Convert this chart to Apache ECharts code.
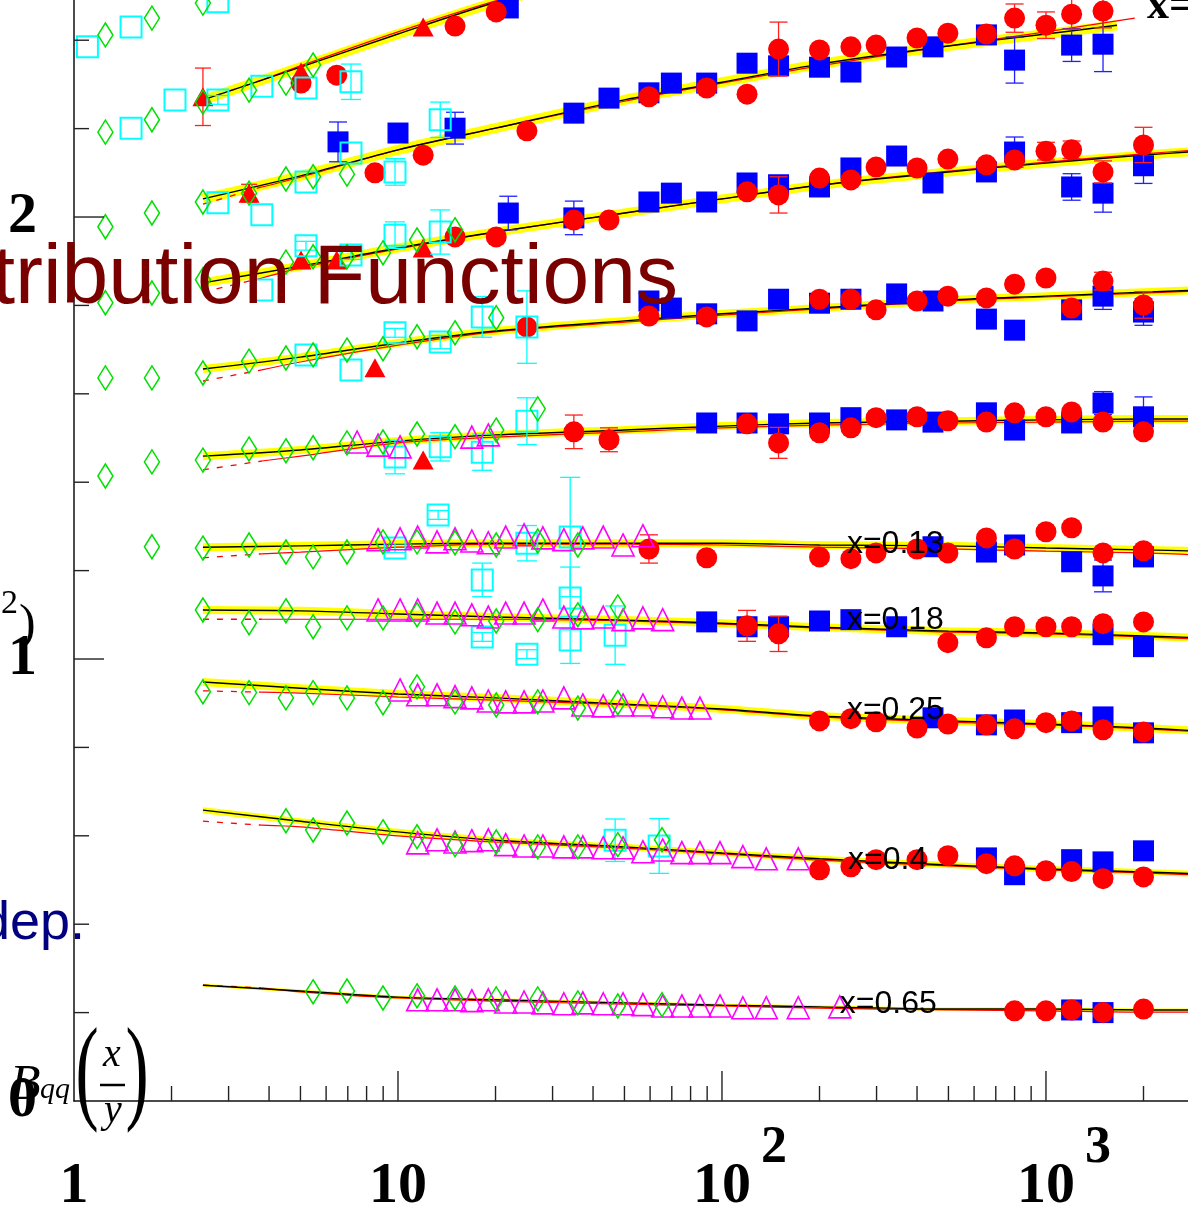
<!DOCTYPE html>
<html><head><meta charset="utf-8">
<script src="https://cdn.jsdelivr.net/npm/echarts@6/dist/echarts.min.js"></script>
<style>html,body{margin:0;padding:0;background:#fff;}#c{width:1188px;height:1212px;}</style>
</head><body><div id="c"></div>
<script>
// ---------------- tick labels ----------------
const xTickLabels = ['1', '10', '10', '10'];
const xTickExp = ['', '', '2', '3'];
const yTickLabels = ['0', '1', '2'];
const xMinorTicks = [2,3,4,5,6,7,8,9,20,30,40,50,60,70,80,90,200,300,400,500,600,700,800,900,2000];
const xMajorTicks = [10,100,1000];
const yMinorTicks = [0.2,0.4,0.6,0.8,1.2,1.4,1.6,1.8,2.2,2.4];
const yMajorTicks = [1,2];

// ---------------- bin labels ----------------
const binLabels = ['x=0.13','x=0.18','x=0.25','x=0.4','x=0.65'];
const binLabelPos = [[243,1.259],[243,1.088],[243,0.885],[245,0.544],[231,0.219]];

// ---------------- fit curves (Q2 grid, value) ----------------
const curveQ = [2.5,5,10,20,50,100,200,500,1000,2000,3000];
const redQ = [2.5,3.8,5,10,20,50,100,200,500,1000,2000,3000];
const curveQ9 = [2.5,5,10,20,50,100,200,500,1000,1656];
const redQ9 = [2.5,3.8,5,10,20,50,100,200,500,1000,1880];
const curveQ10 = [2.5,5,10,20,30];
const redQ10 = [2.5,3.8,5,10,20,30];

const black1 = [0.262,0.249,0.235,0.229,0.222,0.217,0.213,0.208,0.208,0.206,0.206];
const red1   = [0.262,0.256,0.247,0.233,0.226,0.219,0.215,0.210,0.206,0.204,0.201,0.201];
const black2 = [0.658,0.633,0.609,0.590,0.575,0.561,0.548,0.534,0.525,0.518,0.514];
const red2   = [0.633,0.624,0.620,0.600,0.586,0.572,0.559,0.545,0.532,0.523,0.516,0.511];
const black3 = [0.948,0.934,0.921,0.912,0.898,0.887,0.871,0.860,0.853,0.844,0.837];
const red3   = [0.928,0.925,0.923,0.914,0.907,0.896,0.885,0.869,0.857,0.851,0.842,0.835];
const black4 = [1.111,1.109,1.102,1.095,1.088,1.081,1.072,1.063,1.059,1.052,1.048];
const red4   = [1.090,1.090,1.090,1.090,1.090,1.086,1.079,1.070,1.061,1.057,1.050,1.045];
const black5 = [1.253,1.256,1.260,1.262,1.262,1.262,1.258,1.256,1.251,1.247,1.244];
const red5   = [1.229,1.238,1.242,1.253,1.260,1.260,1.258,1.253,1.249,1.244,1.240,1.235];
const black6 = [1.459,1.473,1.493,1.507,1.518,1.527,1.534,1.538,1.541,1.543,1.543];
const red6   = [1.428,1.448,1.459,1.489,1.502,1.514,1.523,1.529,1.534,1.536,1.538,1.538];
const black7 = [1.656,1.683,1.715,1.742,1.765,1.781,1.794,1.812,1.821,1.830,1.835];
const red7   = [1.629,1.654,1.672,1.710,1.740,1.762,1.778,1.792,1.810,1.819,1.828,1.833];
const black8 = [1.851,1.889,1.930,1.966,2.009,2.041,2.072,2.102,2.122,2.140,2.149];
const red8   = [1.830,1.862,1.885,1.928,1.966,2.009,2.041,2.072,2.104,2.124,2.143,2.152];
const black9 = [2.041,2.093,2.152,2.201,2.265,2.305,2.346,2.387,2.414,2.434];
const red9   = [2.029,2.068,2.090,2.152,2.201,2.262,2.303,2.342,2.387,2.419,2.450];
const black10 = [2.265,2.339,2.414,2.486,2.518];
const red10   = [2.265,2.310,2.342,2.419,2.489,2.523];

// ---------------- data points [Q2, value, error] ----------------
const greenDiamonds = [
  [1.25,2.412],[1.74,2.450],[2.50,2.484],
  [1.25,2.192],[1.74,2.220],[2.50,2.260],[3.47,2.287],[4.51,2.303],[5.47,2.344],
  [1.25,1.978],[1.74,2.009],[2.50,2.034],[3.47,2.054],[4.51,2.086],[5.47,2.091],[6.96,2.097],
  [1.25,1.806],[1.74,1.828],[2.50,1.858],[4.51,1.898],[5.47,1.910],[6.96,1.910],[8.99,1.919],[11.45,1.948],[15.0,1.971],
  [1.25,1.636],[1.74,1.636],[2.50,1.647],[3.47,1.674],[4.51,1.681],[5.47,1.688],[6.96,1.699],[8.99,1.702],[11.45,1.729],[15.0,1.738],[20.1,1.772],
  [1.25,1.414],[1.74,1.446],[2.50,1.450],[3.47,1.475],[4.51,1.471],[5.47,1.478],[6.96,1.489],[8.99,1.491],[11.45,1.509],[15.0,1.503],[20.1,1.518],[27.0,1.566],
  [1.74,1.254],[2.50,1.251],[3.47,1.258],[4.51,1.242],[5.47,1.231],[6.96,1.242],[8.99,1.265],[11.45,1.265],[15.0,1.263],[20.1,1.258],[27.0,1.267],[35.9,1.258],
  [2.50,1.111],[3.47,1.082],[4.51,1.109],[5.47,1.073],[6.96,1.093],[8.99,1.093],[11.45,1.100],[15.0,1.084],[20.1,1.086],[27.0,1.089],[35.9,1.100],[47.7,1.118],
  [2.50,0.926,0.03],[3.47,0.924],[4.51,0.912],[5.47,0.924],[6.96,0.912],[8.99,0.901],[11.45,0.937],[15.0,0.903],[20.1,0.896],[27.0,0.903],[35.9,0.889],[47.7,0.901],
  [4.51,0.634],[5.47,0.613],[6.96,0.629],[8.99,0.609],[11.45,0.598],[15.0,0.580],[20.1,0.586],[27.0,0.575],[35.9,0.575],[47.7,0.580],[65.3,0.591],
  [5.47,0.247],[6.96,0.249],[8.99,0.233],[11.45,0.238],[15.0,0.233],[20.1,0.231],[27.0,0.231],[35.9,0.222],[47.7,0.215],[65.3,0.218]
];
const cyanSquares = [
  [1.10,2.385,0],[1.50,2.430,0],[2.78,2.487,0],
  [1.50,2.201,0],[2.05,2.265,0],[2.78,2.265,0.01],[3.80,2.296,0],[5.20,2.292,0],[7.16,2.306,0.04],
  [2.78,2.032,0],[3.80,2.005,0],[5.20,2.079,0],[7.16,2.145,0],[9.79,2.102,0.03],[13.5,2.220,0.04],
  [3.80,1.835,0],[5.20,1.935,0.01],[7.16,1.914,0.01],[9.79,1.959,0.03],[13.5,1.966,0.05],
  [5.20,1.688,0],[7.16,1.654,0],[9.79,1.738,0.01],[13.5,1.717,0.015],[18.2,1.774,0.046],[25.0,1.751,0.082],
  [9.79,1.457,0.038],[13.5,1.480,0.032],[18.2,1.468,0.041],[25.0,1.538,0.053],
  [9.79,1.251,0.01],[13.3,1.326,0.01],[18.2,1.179,0.038],[25.0,1.262,0.04],[34.0,1.276,0.135],
  [18.2,1.050,0.01],[25.0,1.011,0.01],[34.0,1.138,0.07],[34.0,1.043,0.053],[46.8,1.054,0.066],
  [46.8,0.590,0.048],[64.0,0.577,0.062]
];
const magentaTriangles = [
  [7.48,1.491],[8.68,1.484],[10.15,1.480],[16.9,1.502],[19.0,1.507],
  [8.68,1.270],[10.15,1.272],[11.5,1.276],[13.2,1.265],[15.0,1.272],[16.9,1.267],[19.0,1.263],[21.5,1.276],[24.5,1.281],[28.0,1.274],[32.5,1.270],[37.2,1.274],[43.0,1.276],[49.5,1.258],[57.0,1.279],
  [8.68,1.111],[10.15,1.111],[11.5,1.111],[13.2,1.104],[15.0,1.104],[16.9,1.100],[19.0,1.095],[21.5,1.104],[24.5,1.104],[28.0,1.111],[32.5,1.095],[37.2,1.093],[43.0,1.095],[49.5,1.089],[57.0,1.093],[65.6,1.089],
  [10.15,0.930],[11.5,0.919],[13.2,0.919],[15.0,0.915],[16.9,0.912],[19.0,0.905],[21.5,0.903],[24.5,0.903],[28.0,0.905],[32.5,0.912],[37.2,0.896],[43.0,0.894],[49.5,0.896],[57.0,0.896],[65.6,0.892],[75.2,0.889],[85.5,0.889],
  [11.5,0.584],[13.2,0.591],[15.0,0.586],[16.9,0.589],[19.0,0.591],[21.5,0.580],[24.5,0.577],[28.0,0.577],[32.5,0.575],[37.2,0.575],[43.0,0.573],[49.5,0.573],[57.0,0.564],[65.6,0.568],[75.2,0.562],[85.5,0.562],[98.6,0.562],[116,0.553],[137,0.548],[172,0.548],
  [11.5,0.229],[13.2,0.229],[15.0,0.229],[16.9,0.227],[19.0,0.229],[21.5,0.224],[24.5,0.224],[28.0,0.222],[32.5,0.220],[37.2,0.222],[43.0,0.220],[49.5,0.220],[57.0,0.218],[65.6,0.215],[75.2,0.215],[85.5,0.215],[98.6,0.215],[116,0.211],[137,0.211],[172,0.211],[231,0.213]
];
const redTriangles = [
  [2.50,2.272,0.065],[5.02,2.328,0],[11.96,2.430,0],
  [3.47,2.054,0.02],[5.02,1.903,0],[6.47,1.903,0],[11.96,1.930,0],
  [8.49,1.659,0],[11.96,1.450,0]
];
const redCircles = [
  [5.02,2.303,0],[6.47,2.321,0],[15.0,2.432,0],[20.1,2.464,0],
  [8.49,2.100,0],[11.96,2.140,0],[25.0,2.195,0],[59.5,2.272,0],[89.7,2.292,0],[119.5,2.278,0],[149.5,2.380,0.061],[200,2.378,0],[250,2.385,0],[299,2.389,0],[400,2.405,0.01],[498,2.416,0.01],[655,2.414,0.01],[800,2.450,0.032],[1000,2.434,0.03],[1200,2.459,0.034],[1500,2.466,0.038],
  [15.0,1.955,0],[20.1,1.955,0],[34.9,1.993,0],[44.8,1.993,0],[119.5,2.057,0],[149.5,2.050,0.041],[200,2.088,0],[250,2.084,0],[299,2.113,0],[400,2.111,0],[498,2.131,0.01],[655,2.118,0],[800,2.129,0.01],[1000,2.149,0.02],[1200,2.152,0.02],[1500,2.102,0.025],[2000,2.163,0.04],
  [25.0,1.751,0],[59.5,1.776,0],[89.7,1.774,0],[200,1.814,0],[250,1.814,0],[299,1.790,0],[400,1.810,0],[498,1.821,0],[655,1.817,0],[800,1.848,0.01],[1000,1.862,0.01],[1200,1.794,0],[1500,1.855,0.02],[2000,1.801,0.03],
  [34.9,1.514,0.038],[44.8,1.496,0.027],[119.5,1.532,0],[149.5,1.489,0.035],[200,1.512,0],[250,1.523,0],[299,1.546,0],[400,1.548,0],[498,1.539,0],[655,1.536,0],[800,1.557,0],[1000,1.548,0],[1200,1.559,0],[1500,1.536,0],[2000,1.514,0.01],
  [59.5,1.249,0.032],[89.7,1.229,0],[200,1.231,0],[250,1.227,0],[299,1.240,0],[400,1.249,0],[498,1.240,0],[655,1.274,0],[800,1.249,0],[1000,1.288,0],[1200,1.297,0],[1500,1.240,0.01],[2000,1.245,0],
  [119.5,1.075,0.035],[149.5,1.057,0.04],[498,1.037,0],[655,1.048,0],[800,1.073,0],[1000,1.073,0],[1200,1.073,0],[1500,1.080,0],[2000,1.084,0],
  [200,0.860,0],[250,0.865,0],[299,0.858,0],[400,0.844,0],[498,0.853,0],[655,0.851,0],[800,0.842,0],[1000,0.856,0],[1200,0.860,0],[1500,0.840,0],[2000,0.835,0],
  [200,0.523,0],[250,0.530,0],[299,0.546,0],[400,0.546,0],[498,0.555,0],[655,0.537,0],[800,0.532,0],[1000,0.521,0],[1200,0.519,0],[1500,0.503,0],[2000,0.507,0],
  [800,0.204,0],[1000,0.204,0],[1200,0.206,0],[1500,0.200,0],[2000,0.208,0]
];
const blueSquares = [
  [21.9,2.473,0.02],
  [6.53,2.170,0.045],[10.0,2.190,0.02],[15.0,2.201,0.036],[34.9,2.235,0],[44.8,2.269,0],[59.5,2.281,0],[69.8,2.303,0],[89.7,2.303,0],[119.5,2.348,0],[149.5,2.342,0],[200,2.339,0],[250,2.328,0],[346,2.362,0.01],[448,2.385,0.01],[655,2.412,0.01],[800,2.355,0.052],[1200,2.389,0.037],[1500,2.391,0.062],
  [21.9,2.009,0.038],[34.9,1.998,0.038],[59.5,2.034,0],[69.8,2.054,0],[89.7,2.034,0],[119.5,2.077,0],[149.5,2.073,0.01],[200,2.068,0],[250,2.111,0],[346,2.138,0],[448,2.077,0],[655,2.102,0],[800,2.147,0.034],[1200,2.068,0.03],[1500,2.054,0.043],[2000,2.116,0.04],
  [59.5,1.810,0],[69.8,1.794,0],[89.7,1.781,0],[119.5,1.765,0],[149.5,1.814,0],[200,1.805,0],[250,1.814,0],[346,1.826,0],[448,1.810,0],[655,1.769,0],[800,1.744,0],[1200,1.790,0.02],[1500,1.821,0.03],[2000,1.785,0.03],
  [89.7,1.534,0],[119.5,1.534,0],[149.5,1.532,0],[200,1.534,0],[250,1.546,0],[346,1.541,0],[448,1.536,0],[655,1.557,0],[800,1.518,0],[1200,1.534,0],[1500,1.579,0.026],[2000,1.548,0.045],
  [448,1.254,0],[655,1.242,0],[800,1.258,0],[1200,1.220,0],[1500,1.188,0.036],[2000,1.231,0.02],
  [89.7,1.084,0],[119.5,1.073,0],[149.5,1.073,0],[200,1.086,0],[250,1.089,0],[346,1.073,0],[1500,1.055,0],[2000,1.028,0],
  [448,0.867,0],[655,0.851,0],[800,0.862,0],[1200,0.856,0],[1500,0.869,0],[2000,0.833,0],
  [655,0.550,0],[800,0.512,0],[1200,0.546,0],[1500,0.541,0],[2000,0.566,0.01],
  [1200,0.206,0],[1500,0.200,0]
];

// ---------------- build ----------------
const SERIF = "'Liberation Serif','Times New Roman',serif";
const SANS = "'Liberation Sans',Arial,sans-serif";
const zip = (q, v) => v.map((y, i) => [q[i], y]);

const curveRows = [
  {q: curveQ, b: black1, rq: redQ, r: red1, band: 3},
  {q: curveQ, b: black2, rq: redQ, r: red2, band: 6},
  {q: curveQ, b: black3, rq: redQ, r: red3, band: 8},
  {q: curveQ, b: black4, rq: redQ, r: red4, band: 8},
  {q: curveQ, b: black5, rq: redQ, r: red5, band: 8},
  {q: curveQ, b: black6, rq: redQ, r: red6, band: 8},
  {q: curveQ, b: black7, rq: redQ, r: red7, band: 8},
  {q: curveQ, b: black8, rq: redQ, r: red8, band: 9},
  {q: curveQ9, b: black9, rq: redQ9, r: red9, band: 10},
  {q: curveQ10, b: black10, rq: redQ10, r: red10, band: 10}
];

const series = [];
curveRows.forEach(c => {
  const bd = zip(c.q, c.b), rd = zip(c.rq, c.r);
  series.push({type:'line', data: bd, symbol:'none', smooth:0.3, silent:true, z:1,
    lineStyle:{color:'#ffff00', width:c.band, opacity:1}});
  series.push({type:'line', data: rd.slice(0,2), symbol:'none', silent:true, z:2,
    lineStyle:{color:'#ff0000', width:1.3, type:[6,8], opacity:1}});
  series.push({type:'line', data: rd.slice(1), symbol:'none', smooth:0.3, silent:true, z:2,
    lineStyle:{color:'#ff0000', width:1.2, opacity:1}});
  series.push({type:'line', data: bd, symbol:'none', smooth:0.3, silent:true, z:3,
    lineStyle:{color:'#000000', width:1.4, opacity:1}});
});

function errSeries(data, color, cap, z) {
  return {type:'custom', data, z, silent:true, encode:{x:0, y:1},
    renderItem: (params, api) => {
      const x = api.value(0), y = api.value(1), e = api.value(2);
      if (!e) return null;
      const a = api.coord([x, y + e]), b = api.coord([x, y - e]);
      const st = {stroke: color, lineWidth: 1.3};
      return {type:'group', children:[
        {type:'line', shape:{x1:a[0], y1:a[1], x2:b[0], y2:b[1]}, style:st},
        {type:'line', shape:{x1:a[0]-cap/2, y1:a[1], x2:a[0]+cap/2, y2:a[1]}, style:st},
        {type:'line', shape:{x1:b[0]-cap/2, y1:b[1], x2:b[0]+cap/2, y2:b[1]}, style:st}
      ]};
    }};
}
function scat(data, symbol, size, style, z) {
  return {type:'scatter', data, symbol, symbolSize:size, itemStyle:Object.assign({opacity:1}, style), z, silent:true, encode:{x:0, y:1}};
}

series.push(errSeries(blueSquares, '#2020ff', 18, 4));
series.push(scat(blueSquares, 'rect', 21, {color:'#0000ff'}, 5));
series.push(errSeries(redCircles, '#ff2020', 18, 6));
series.push(scat(redCircles, 'circle', 21, {color:'#ff0000'}, 7));
series.push(errSeries(redTriangles, '#ff2020', 16, 8));
series.push(scat(redTriangles, 'triangle', [21,19], {color:'#ff0000'}, 9));
series.push(errSeries(cyanSquares, '#00ffff', 20, 10));
series.push(scat(cyanSquares, 'rect', 21, {color:'rgba(0,0,0,0)', borderColor:'#00ffff', borderWidth:2}, 11));
series.push(scat(magentaTriangles, 'triangle', [22,22], {color:'rgba(0,0,0,0)', borderColor:'#ff00ff', borderWidth:1.6}, 12));
series.push(errSeries(greenDiamonds, '#00e000', 20, 13));
series.push(scat(greenDiamonds, 'diamond', [15,24], {color:'rgba(0,0,0,0)', borderColor:'#00e000', borderWidth:1.6}, 14));

// axis ticks
series.push({type:'custom', silent:true, z:20, encode:{x:0, y:1},
  data: xMinorTicks.map(v => [v, 0, 15]).concat(xMajorTicks.map(v => [v, 0, 30])),
  renderItem: (params, api) => {
    const p = api.coord([api.value(0), 0]);
    return {type:'line', shape:{x1:p[0], y1:p[1], x2:p[0], y2:p[1] - api.value(2)}, style:{stroke:'#222', lineWidth:1.4}};
  }});
series.push({type:'custom', silent:true, z:20, encode:{x:0, y:1},
  data: yMinorTicks.map(v => [1, v, 15]).concat(yMajorTicks.map(v => [1, v, 30])),
  renderItem: (params, api) => {
    const p = api.coord([1, api.value(1)]);
    return {type:'line', shape:{x1:p[0], y1:p[1], x2:p[0] + api.value(2), y2:p[1]}, style:{stroke:'#222', lineWidth:1.4}};
  }});
// bin labels
series.push({type:'custom', silent:true, z:30, encode:{x:0, y:1},
  data: binLabelPos,
  renderItem: (params, api) => {
    const p = api.coord([api.value(0), api.value(1)]);
    return {type:'text', x:p[0], y:p[1], style:{text: binLabels[params.dataIndex], fontSize:32, fontFamily:SANS, fill:'#000', align:'left', verticalAlign:'middle'}};
  }});

const chart = echarts.init(document.getElementById('c'), null, {renderer:'canvas'});
chart.setOption({
  animation: false,
  backgroundColor: '#ffffff',
  grid: {left:74, right:0, top:0, bottom:111, containLabel:false, outerBoundsMode:'none'},
  xAxis: {type:'log', logBase:10, min:1, max:2744,
    axisLine:{show:true, onZero:false, lineStyle:{color:'#111', width:1.5}},
    axisTick:{show:false}, splitLine:{show:false}, minorTick:{show:false},
    axisLabel:{show:true, margin:57, fontSize:58, fontWeight:'bold', fontFamily:SERIF, color:'#000',
      formatter: v => { const l = Math.log10(v); const i = Math.round(l); return Math.abs(l - i) < 1e-6 && i >= 0 && i < xTickLabels.length ? xTickLabels[i] : ''; }}},
  yAxis: {type:'value', min:0, max:2.491, interval:1,
    axisLine:{show:true, onZero:false, lineStyle:{color:'#111', width:1.5}},
    axisTick:{show:false}, splitLine:{show:false},
    axisLabel:{show:true, margin:37, fontSize:58, fontWeight:'bold', fontFamily:SERIF, color:'#000',
      formatter: v => { const i = Math.round(v); return Math.abs(v - i) < 1e-6 && i >= 0 && i < yTickLabels.length ? yTickLabels[i] : ''; }}},
  series
});

// decorative / overlay texts
const g = [];
xTickExp.forEach((e, i) => {
  if (!e) return;
  const p = chart.convertToPixel({xAxisIndex:0, yAxisIndex:0}, [Math.pow(10, i), 0]);
  g.push({type:'text', x:p[0] + 52, y:p[1] + 48, z:50, style:{text:e, fontSize:52, fontWeight:'bold', fontFamily:SERIF, fill:'#000', align:'center', verticalAlign:'middle'}});
});
g.push({type:'text', x:678, y:280, z:40, style:{text:'tribution Functions', fontSize:84, fontFamily:SANS, fill:'#7a0000', align:'right', verticalAlign:'middle'}});
g.push({type:'text', x:85, y:924, z:40, style:{text:'dep.', fontSize:54, fontFamily:SANS, fill:'#000080', align:'right', verticalAlign:'middle'}});
g.push({type:'text', x:1147, y:7, z:40, style:{text:'x=', fontSize:44, fontWeight:'bold', fontFamily:SERIF, fill:'#000', align:'left', verticalAlign:'middle'}});
g.push({type:'text', x:1, y:604, z:40, style:{text:'2', fontSize:34, fontFamily:SERIF, fill:'#000', align:'left', verticalAlign:'middle'}});
g.push({type:'text', x:19, y:626, z:40, style:{text:')', fontSize:50, fontFamily:SERIF, fill:'#000', align:'left', verticalAlign:'middle'}});
g.push({type:'text', x:10, y:1086, z:5, style:{text:'B', fontSize:50, fontStyle:'italic', fontFamily:SERIF, fill:'#000', align:'left', verticalAlign:'middle'}});
g.push({type:'text', x:40, y:1090, z:5, style:{text:'qq', fontSize:30, fontStyle:'italic', fontFamily:SERIF, fill:'#000', align:'left', verticalAlign:'middle'}});
g.push({type:'text', x:87, y:1078, scaleX:0.6, z:5, style:{text:'(', fontSize:116, fontFamily:SERIF, fill:'#000', align:'center', verticalAlign:'middle'}});
g.push({type:'text', x:137, y:1078, scaleX:0.6, z:5, style:{text:')', fontSize:116, fontFamily:SERIF, fill:'#000', align:'center', verticalAlign:'middle'}});
g.push({type:'text', x:112, y:1055, z:5, style:{text:'x', fontSize:40, fontStyle:'italic', fontFamily:SERIF, fill:'#000', align:'center', verticalAlign:'middle'}});
g.push({type:'line', z:5, shape:{x1:100, y1:1085, x2:125, y2:1085}, style:{stroke:'#000', lineWidth:2.5}});
g.push({type:'text', x:113, y:1111, z:5, style:{text:'y', fontSize:40, fontStyle:'italic', fontFamily:SERIF, fill:'#000', align:'center', verticalAlign:'middle'}});
chart.setOption({graphic: g});
</script></body></html>
